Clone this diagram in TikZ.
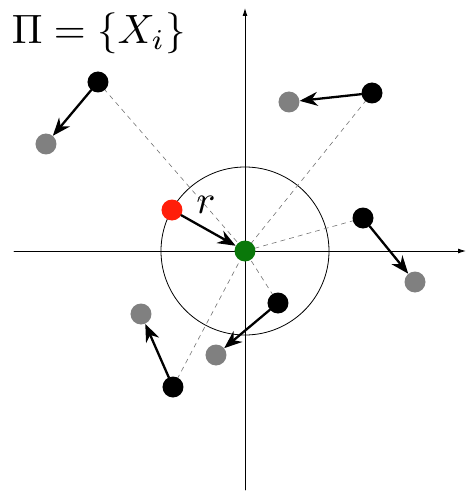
\documentclass[tikz,border=0pt]{standalone}
\usetikzlibrary{arrows.meta}

\definecolor{dotgray}{RGB}{128,128,128}
\definecolor{dotred}{RGB}{255,30,10}
\definecolor{dotgreen}{RGB}{10,120,10}

\tikzset{
  dot/.style={circle, inner sep=0pt, minimum size=21pt},
  agent/.style={dot, fill=black},
  target/.style={dot, fill=dotgray},
  move/.style={line width=2.3pt, -{Stealth[length=18pt, width=14pt]}},
  ray/.style={dash pattern=on 4.5pt off 4.5pt, line width=0.6pt, black!55}
}

\begin{document}
\begin{tikzpicture}[x=1pt, y=1pt, line cap=round, line join=round]
		% Fix the frame to the reference size
		\useasboundingbox (-245,-242) rectangle (223,251);
		
		% Main parameters
		\def\R{84}   % radius of the circle
		
		% Centre and axes
		\coordinate (O) at (0,0);
		\draw[line width=0.9pt, -{Latex[length=8pt, width=5pt]}] (-231,0) -- (221,0);
		\draw[line width=0.9pt, -{Latex[length=8pt, width=5pt]}] (0,-239) -- (0,243);
		\draw[line width=0.8pt] (O) circle (\R);
		
		% Positions of the agents and their targets
		\coordinate (a1) at (-147,169);
		\coordinate (a2) at (127,158);
		\coordinate (a3) at (118,33);
		\coordinate (a4) at (33,-52);
		\coordinate (a5) at (-72,-136);
		
		% Dashed rays to the centre
		\foreach \i in {1,...,5}
			\draw[ray] (a\i) -- (O);
		
		% Agents
		\foreach \i in {1,...,5}
			\node[agent] (A\i) at (a\i) {};
		
		% Targets
		\node[target] (T1) at (-199,107) {};
		\node[target] (T2) at (44,149) {};
		\node[target] (T3) at (170,-31) {};
		\node[target] (T4) at (-29,-104) {};
		\node[target] (T5) at (-104,-63) {};
		
		% Red point and green centre
		\node[dot, fill=dotred] (P) at (-73,41) {};
		\node[dot, fill=dotgreen] (C) at (O) {};
		
		% Moves
		\foreach \i in {1,...,5}
			\draw[move] (A\i) -- (T\i);
		\draw[move] (P) -- (C);
		
		% Labels
		\node[scale=4] (rlab) at (-39,46) {$r$};
		\node[scale=4.1, inner sep=0pt, anchor=west] (title) at (-234,218) {$\Pi = \{X_i\}$};
	\end{tikzpicture}
\end{document}
